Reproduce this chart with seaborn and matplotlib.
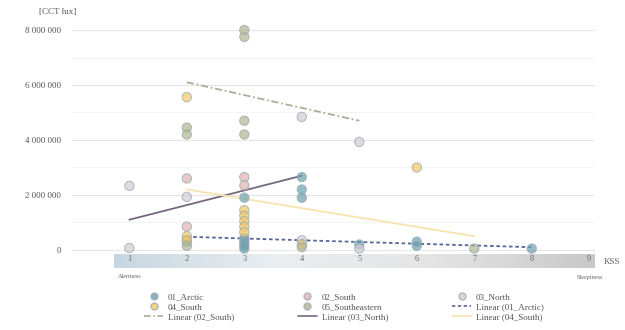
import numpy as np
import pandas as pd
import matplotlib.pyplot as plt
import seaborn as sns
from matplotlib.lines import Line2D
from matplotlib.ticker import FuncFormatter

# data (CCT in lux)
arctic_kss = [3, 4, 4, 4, 3, 3, 3, 3, 3, 2, 5, 6, 6, 8]
arctic_cct = [1.9e6, 2.65e6, 2.2e6, 1.9e6, 0.45e6, 0.35e6, 0.25e6, 0.15e6, 0.05e6, 0.3e6, 0.2e6, 0.3e6, 0.15e6, 0.05e6]
south02_kss = [2, 3, 2, 3]
south02_cct = [0.85e6, 2.65e6, 2.6e6, 2.35e6]
north03_kss = [1, 1, 2, 4, 5, 4, 5]
north03_cct = [2.33e6, 0.07e6, 1.93e6, 4.84e6, 3.93e6, 0.35e6, 0.05e6]
south04_kss = [2, 3, 3, 3, 3, 3, 6, 4, 2, 2]
south04_cct = [5.56e6, 1.45e6, 1.25e6, 1.05e6, 0.85e6, 0.65e6, 3.0e6, 0.2e6, 0.5e6, 0.35e6]
se05_kss = [3, 3, 3, 3, 2, 2, 7, 2, 4]
se05_cct = [8.0e6, 7.75e6, 4.7e6, 4.2e6, 4.45e6, 4.2e6, 0.05e6, 0.15e6, 0.1e6]

series_names = ['01_Arctic', '02_South', '03_North', '04_South', '05_Southeastern']
series_colors = ['#6aa0b0', '#e0b4ae', '#d2cdd5', '#f2c862', '#b2b590']

# linear trend lines: start/end kss and cct
trend_names = ['Linear (01_Arctic)', 'Linear (02_South)', 'Linear (03_North)', 'Linear (04_South)']
trend_kss = [[2, 8], [2, 5], [1, 4], [2, 7]]
trend_cct = [[0.48e6, 0.1e6], [6.1e6, 4.7e6], [1.1e6, 2.7e6], [2.2e6, 0.5e6]]
trend_colors = ['#56669a', '#a2b296', '#75687f', '#f7e3ae']
trend_styles = [(0, (2, 1.5)), (0, (4, 1.5, 1, 1.5)), '-', '-']

kss_ticks = [1, 2, 3, 4, 5, 6, 7, 8, 9]
cct_ticks = [0, 2e6, 4e6, 6e6, 8e6]

df = pd.concat([
    pd.DataFrame({'KSS': arctic_kss, 'CCT': arctic_cct, 'Region': series_names[0]}),
    pd.DataFrame({'KSS': south02_kss, 'CCT': south02_cct, 'Region': series_names[1]}),
    pd.DataFrame({'KSS': north03_kss, 'CCT': north03_cct, 'Region': series_names[2]}),
    pd.DataFrame({'KSS': south04_kss, 'CCT': south04_cct, 'Region': series_names[3]}),
    pd.DataFrame({'KSS': se05_kss, 'CCT': se05_cct, 'Region': series_names[4]}),
])

sns.set_style('white')
plt.rcParams['font.family'] = ['Liberation Serif', 'DejaVu Serif']

fig = plt.figure(figsize=(6.25, 3.3), dpi=100)
ax = fig.add_axes([0.115, 0.188, 0.837, 0.751])
ax.set_xlim(0, 9.1)
ax.set_ylim(-0.655e6, 8.36e6)

# gridlines
for v in np.arange(0, 8.5e6, 1e6):
    ax.plot([0, 9.1], [v, v], color='#e6e6e6' if v % 2e6 == 0 else '#f4f4f4', lw=0.8, zorder=0)

# gradient bar holding the KSS ticks
grad = np.linspace(0, 1, 256)
cmap = sns.blend_palette(['#c6d6e0', '#eaeef1', '#e4e4e4', '#c8c8c8'], as_cmap=True)
ax.imshow(grad[np.newaxis, :], extent=(0.74, 9.1, -0.655e6, -0.18e6), aspect='auto',
          cmap=cmap, zorder=0.5)

pal = dict(zip(series_names, series_colors))
sns.scatterplot(data=df, x='KSS', y='CCT', hue='Region', palette=pal, s=45, alpha=0.7,
                edgecolor='#98a8ae', linewidth=0.8, ax=ax, legend=False, zorder=3)

for i in range(len(trend_names)):
    ax.plot(trend_kss[i], trend_cct[i], color=trend_colors[i], ls=trend_styles[i], lw=1.3, zorder=2)

for s in ax.spines.values():
    s.set_visible(False)

ax.set_xticks(kss_ticks)
ax.set_xticklabels([str(k) for k in kss_ticks], fontsize=6, color='#666666')
ax.tick_params(axis='x', length=0, pad=-9)
ax.set_yticks(cct_ticks)
ax.yaxis.set_major_formatter(FuncFormatter(lambda v, p: f'{int(v):,}'.replace(',', ' ')))
ax.tick_params(axis='y', length=0, labelsize=6.5, labelcolor='#555555', pad=8)
ax.set_xlabel('')
ax.set_ylabel('')

fig.text(0.062, 0.965, '[CCT lux]', fontsize=6.5, color='#555555', ha='left', va='center')
fig.text(0.966, 0.206, 'KSS', fontsize=6.5, color='#666666', ha='left', va='center')
fig.text(130 / 625, 1 - 277 / 330, 'Alertness', fontsize=4.5, color='#666666', ha='center', va='center')
fig.text(590 / 625, 1 - 277 / 330, 'Sleepiness', fontsize=4.5, color='#666666', ha='center', va='center')

# legend, filled column by column to give the row order of the reference
pts = [Line2D([], [], marker='o', ls='', ms=5, markerfacecolor=c, markeredgecolor='#a0abb0',
              alpha=0.8) for c in series_colors]
lns = [Line2D([], [], color=c, ls=st, lw=1.2) for c, st in zip(trend_colors, trend_styles)]
handles = pts + lns
labels = series_names + trend_names
order = [0, 3, 6, 1, 4, 7, 2, 5, 8]
fig.legend([handles[i] for i in order], [labels[i] for i in order], ncol=3,
           loc='center', bbox_to_anchor=(0.55, 0.07), frameon=False, fontsize=6.5,
           handlelength=2.2, handletextpad=0.5, columnspacing=7, labelspacing=0.15,
           labelcolor='#555555')

fig.savefig('out.png', dpi=100)
